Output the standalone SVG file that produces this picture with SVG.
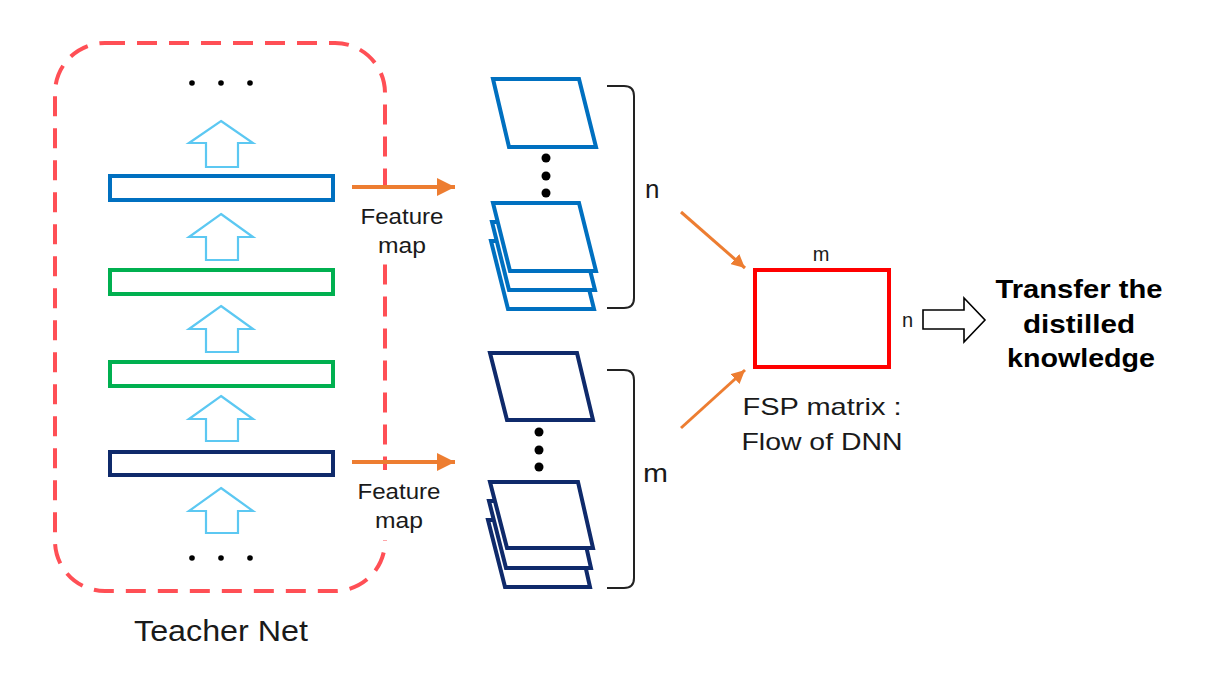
<svg xmlns="http://www.w3.org/2000/svg" width="1212" height="678" viewBox="0 0 1212 678">
<defs>
<style>
.lbl{font-family:"Liberation Sans",Arial,sans-serif;fill:#1a1a1a}
.bold{font-family:"Liberation Sans",Arial,sans-serif;font-weight:bold;fill:#000}
.up{fill:#fff;stroke:#5CC8F2;stroke-width:2.2}
.layer{fill:#fff;stroke-width:4}
.fmb{stroke:#0070C0}
.fmn{stroke:#0F2A6B}
.orange{stroke:#ED7D31;stroke-width:4;fill:none}
.thin{stroke:#ED7D31;stroke-width:3;fill:none}
.brace{fill:none;stroke:#222;stroke-width:2}
</style>
<marker id="ah" viewBox="0 0 10 10" refX="10" refY="5" markerWidth="4.5" markerHeight="4.5" orient="auto" markerUnits="strokeWidth">
<path d="M0,0 L10,5 L0,10 z" fill="#ED7D31"/>
</marker>
<marker id="ah2" viewBox="0 0 10 10" refX="10" refY="5" markerWidth="4.5" markerHeight="4.5" orient="auto" markerUnits="strokeWidth">
<path d="M0,0 L10,5 L0,10 z" fill="#ED7D31"/>
</marker>
</defs>
<rect width="1212" height="678" fill="#fff"/>

<g id="teacher-net">
<rect x="55" y="43" width="330" height="548" rx="50" fill="none" stroke="#FF4F55" stroke-width="4" stroke-dasharray="20 12"/>
<g fill="#000">
<circle cx="192" cy="83" r="2.8"/><circle cx="221" cy="83" r="2.8"/><circle cx="250" cy="83" r="2.8"/>
<circle cx="192" cy="558" r="2.8"/><circle cx="221" cy="558" r="2.8"/><circle cx="250" cy="558" r="2.8"/>
</g>
<path class="up" d="M221,121 L253,143 L238,143 L238,167 L206,167 L206,143 L189,143 Z"/>
<path class="up" d="M221,214 L253,237 L238,237 L238,260 L206,260 L206,237 L189,237 Z"/>
<path class="up" d="M221,306 L253,329 L238,329 L238,352 L206,352 L206,329 L189,329 Z"/>
<path class="up" d="M221,396 L253,419 L238,419 L238,441 L206,441 L206,419 L189,419 Z"/>
<path class="up" d="M221,488 L253,511 L238,511 L238,533 L206,533 L206,511 L189,511 Z"/>
<rect x="110" y="176" width="223" height="24" fill="#fff" stroke="#0070C0" stroke-width="4"/>
<rect x="110" y="270" width="223" height="24" fill="#fff" stroke="#00B050" stroke-width="4"/>
<rect x="110" y="362" width="223" height="24" fill="#fff" stroke="#00B050" stroke-width="4"/>
<rect x="110" y="452" width="223" height="23" fill="#fff" stroke="#0F2A6B" stroke-width="4"/>
<text class="lbl" x="221" y="641" font-size="30" text-anchor="middle" textLength="174" lengthAdjust="spacingAndGlyphs">Teacher Net</text>
</g>

<g id="label-fm1">
<rect x="356" y="196" width="92" height="68" fill="#fff"/>
<text class="lbl" x="402" y="224" font-size="22" text-anchor="middle" textLength="83" lengthAdjust="spacingAndGlyphs">Feature</text>
<text class="lbl" x="402" y="253" font-size="22" text-anchor="middle" textLength="48" lengthAdjust="spacingAndGlyphs">map</text>
</g>
<g id="label-fm2">
<rect x="356" y="470" width="92" height="70" fill="#fff"/>
<text class="lbl" x="399" y="499" font-size="22" text-anchor="middle" textLength="83" lengthAdjust="spacingAndGlyphs">Feature</text>
<text class="lbl" x="399" y="528" font-size="22" text-anchor="middle" textLength="48" lengthAdjust="spacingAndGlyphs">map</text>
</g>

<g id="feature-maps-n">
<path class="layer fmb" d="M491,241 L577,241 L594,309 L508,309 Z"/>
<path class="layer fmb" d="M492,222 L578,222 L595,290 L509,290 Z"/>
<path class="layer fmb" d="M493,203 L579,203 L596,271 L510,271 Z"/>
<path class="layer fmb" d="M493,79 L579,79 L596,147 L509,147 Z"/>
<g fill="#000"><circle cx="546" cy="158" r="4.5"/><circle cx="546" cy="176" r="4.5"/><circle cx="546" cy="193" r="4.5"/></g>
<path class="brace" d="M607,86 L624,86 Q634,86 634,96 L634,298 Q634,308 624,308 L607,308"/>
<text class="lbl" x="645" y="198" font-size="26">n</text>
</g>

<g id="feature-maps-m">
<path class="layer fmn" d="M488,520 L575,520 L590,587 L505,587 Z"/>
<path class="layer fmn" d="M489,501 L576,501 L591,568 L506,568 Z"/>
<path class="layer fmn" d="M490,482 L578,482 L593,548 L507,548 Z"/>
<path class="layer fmn" d="M490,353 L577,353 L593,420 L507,420 Z"/>
<g fill="#000"><circle cx="539" cy="432" r="4.5"/><circle cx="539" cy="450" r="4.5"/><circle cx="539" cy="467" r="4.5"/></g>
<path class="brace" d="M607,370 L624,370 Q634,370 634,380 L634,578 Q634,588 624,588 L607,588"/>
<text class="lbl" x="643" y="482" font-size="26" textLength="25" lengthAdjust="spacingAndGlyphs">m</text>
</g>

<g id="fsp-matrix">
<rect x="755" y="270" width="134" height="97" fill="#fff" stroke="#FF0000" stroke-width="4"/>
<text class="lbl" x="821" y="261" font-size="20" text-anchor="middle">m</text>
<text class="lbl" x="902" y="327" font-size="20">n</text>
<text class="lbl" x="822" y="415" font-size="24" text-anchor="middle" textLength="159" lengthAdjust="spacingAndGlyphs">FSP matrix :</text>
<text class="lbl" x="822" y="450" font-size="24" text-anchor="middle" textLength="161" lengthAdjust="spacingAndGlyphs">Flow of DNN</text>
</g>

<g id="transfer">
<text class="bold" x="1079" y="298" font-size="25" text-anchor="middle" textLength="167" lengthAdjust="spacingAndGlyphs">Transfer the</text>
<text class="bold" x="1079" y="333" font-size="25" text-anchor="middle" textLength="112" lengthAdjust="spacingAndGlyphs">distilled</text>
<text class="bold" x="1081" y="367" font-size="25" text-anchor="middle" textLength="148" lengthAdjust="spacingAndGlyphs">knowledge</text>
</g>

<g id="connectors">
<line class="orange" x1="352" y1="187" x2="455" y2="187" marker-end="url(#ah)"/>
<line class="orange" x1="352" y1="462" x2="455" y2="462" marker-end="url(#ah)"/>
<line class="thin" x1="681" y1="212" x2="745" y2="268" marker-end="url(#ah2)"/>
<line class="thin" x1="681" y1="428" x2="745" y2="370" marker-end="url(#ah2)"/>
<path d="M923,310 L964,310 L964,298 L985,320 L964,342 L964,329 L923,329 Z" fill="#fff" stroke="#000" stroke-width="1.6"/>
</g>
</svg>
